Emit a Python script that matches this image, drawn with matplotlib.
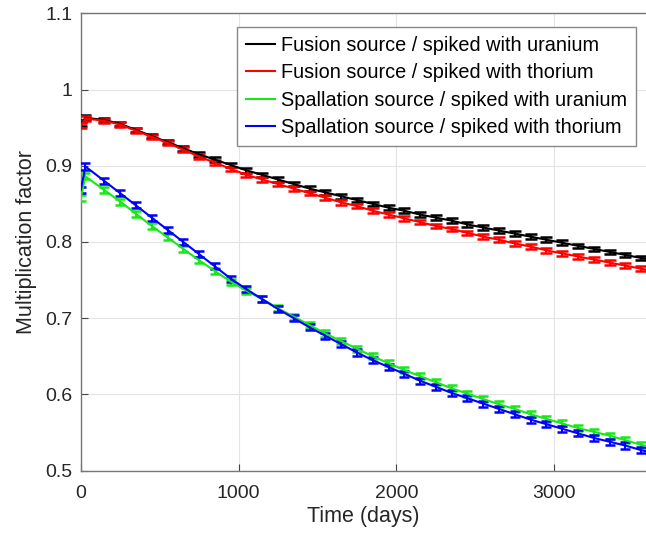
import numpy as np
import matplotlib
matplotlib.use("Agg")
import matplotlib.pyplot as plt
from matplotlib.lines import Line2D

plt.rcParams["font.family"] = ["Liberation Sans", "DejaVu Sans"]

# time points (days)
days = [0, 30, 150, 250, 350, 450, 550, 650, 750, 850, 950, 1050, 1150, 1250,
        1350, 1450, 1550, 1650, 1750, 1850, 1950, 2050, 2150, 2250, 2350, 2450,
        2550, 2650, 2750, 2850, 2950, 3050, 3150, 3250, 3350, 3450, 3550, 3650]

fusion_u = [0.955, 0.963, 0.960, 0.955, 0.947, 0.939, 0.931, 0.923, 0.915, 0.908,
            0.901, 0.894, 0.888, 0.882, 0.876, 0.870, 0.865, 0.860, 0.855, 0.850,
            0.845, 0.841, 0.836, 0.832, 0.828, 0.823, 0.819, 0.815, 0.811, 0.807,
            0.803, 0.799, 0.795, 0.791, 0.787, 0.783, 0.779, 0.776]

fusion_th = [0.953, 0.962, 0.959, 0.954, 0.946, 0.938, 0.930, 0.921, 0.912, 0.904,
             0.896, 0.888, 0.882, 0.876, 0.870, 0.864, 0.858, 0.852, 0.847, 0.841,
             0.836, 0.831, 0.826, 0.821, 0.817, 0.812, 0.807, 0.803, 0.798, 0.794,
             0.789, 0.785, 0.781, 0.777, 0.773, 0.769, 0.765, 0.761]

spall_u = [0.858, 0.886, 0.868, 0.853, 0.837, 0.821, 0.806, 0.791, 0.776, 0.762,
           0.748, 0.736, 0.725, 0.713, 0.702, 0.691, 0.680, 0.670, 0.660, 0.650,
           0.641, 0.632, 0.624, 0.616, 0.608, 0.601, 0.594, 0.587, 0.581, 0.574,
           0.568, 0.562, 0.556, 0.551, 0.546, 0.540, 0.534, 0.529]

spall_th = [0.868, 0.899, 0.880, 0.864, 0.848, 0.832, 0.816, 0.800, 0.784, 0.768,
            0.752, 0.738, 0.725, 0.712, 0.700, 0.688, 0.677, 0.666, 0.655, 0.645,
            0.636, 0.627, 0.618, 0.610, 0.602, 0.595, 0.588, 0.581, 0.574, 0.567,
            0.561, 0.555, 0.549, 0.543, 0.538, 0.533, 0.527, 0.522]

err_fusion = 0.003
err_spall = 0.004

labels = ["Fusion source / spiked with uranium",
          "Fusion source / spiked with thorium",
          "Spallation source / spiked with uranium",
          "Spallation source / spiked with thorium"]
colors = ["#000000", "#ff0000", "#18e818", "#0000ff"]

fig = plt.figure(figsize=(6.46, 5.34), dpi=100)
ax = fig.add_axes([80.7 / 646, 1 - 470.7 / 534, 1 - 80.7 / 646 + 0.001, 457.4 / 534])

series = [(fusion_u, err_fusion, 4.5), (fusion_th, err_fusion, 4.5),
          (spall_u, err_spall, 3.5), (spall_th, err_spall, 3.5)]
for (vals, err, cap), c in zip(series, colors):
    ax.errorbar(days, vals, yerr=err, color=c, lw=1.5, elinewidth=1.5,
                capsize=cap, capthick=1.8, zorder=3)

ax.set_xlim(0, 3585)
ax.set_ylim(0.5, 1.1)
ax.set_xticks([0, 1000, 2000, 3000])
ax.set_yticks([0.5, 0.6, 0.7, 0.8, 0.9, 1.0, 1.1])
ax.set_yticklabels(["0.5", "0.6", "0.7", "0.8", "0.9", "1", "1.1"])
ax.grid(True, color="#e3e3e3", lw=0.8)
ax.set_axisbelow(True)
ax.tick_params(direction="in", length=5, color="#444444", labelsize=14,
               labelcolor="#262626")
ax.tick_params(axis="x", pad=10)
ax.tick_params(axis="y", pad=6)
for s in ax.spines.values():
    s.set_color("#777777")
    s.set_linewidth(1.0)

ax.set_xlabel("Time (days)", fontsize=15.5, color="#262626", labelpad=3)
ax.set_ylabel("Multiplication factor", fontsize=15.5, color="#262626", labelpad=6)

handles = [Line2D([], [], color=c, lw=1.5) for c in colors]
leg = ax.legend(handles, labels, loc="upper right",
                bbox_to_anchor=(636 / 646, 1 - 27 / 534),
                bbox_transform=fig.transFigure, borderaxespad=0,
                fontsize=14.3, handlelength=1.45, handletextpad=0.3,
                labelspacing=0.42, fancybox=False, framealpha=1,
                edgecolor="#888888", borderpad=0.45)
leg.get_frame().set_linewidth(1.0)

fig.savefig("out.png", dpi=100)
